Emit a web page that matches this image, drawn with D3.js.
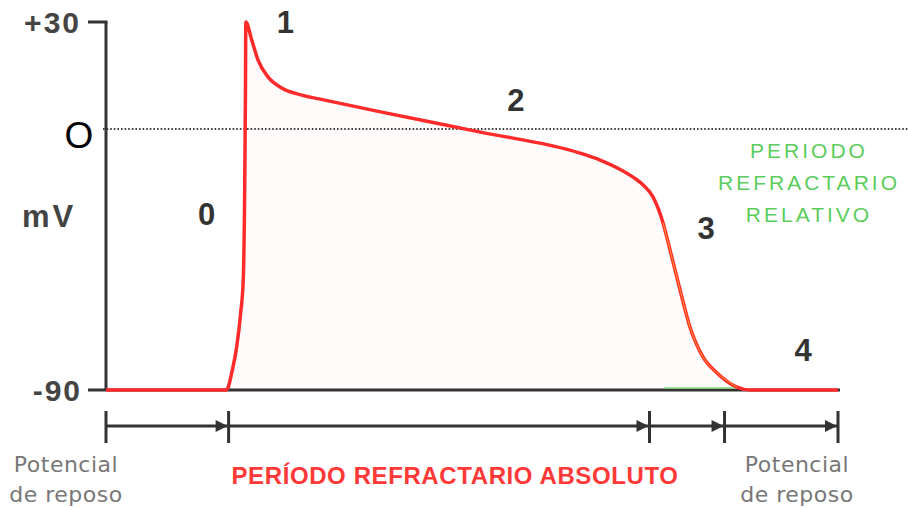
<!DOCTYPE html>
<html>
<head>
<meta charset="utf-8">
<script src="https://cdn.jsdelivr.net/npm/d3@7"></script>
<style>
  body { margin: 0; background: #fff; }
  svg { display: block; }
</style>
</head>
<body>
<div id="chart"></div>
<script>
// time (ms) and membrane potential (mV) of the action potential
var timeMs = [0, 65.6, 66.8, 68.7, 71.4, 73.6, 75.0, 75.8, 76.2, 76.4, 79.6, 83.1, 88.5, 96, 107, 119.6, 150, 204, 259, 270, 280, 288, 294, 298.9, 304.4, 308.2, 313.7, 319.1, 326.2, 333.9, 344.8, 352, 400];
var voltage = [-90, -90, -89, -84.1, -75.2, -63.4, -52, -20, 10, 30, 25, 19.3, 14.6, 11.5, 9.5, 8.1, 4.8, -1.0, -8.3, -10.7, -13.6, -16.6, -19.6, -23.4, -32.4, -41.7, -55.5, -68.3, -78.6, -84.1, -89, -90, -90];

var yTicks = [30, 0, -90];
var yTickLabels = ["+30", "O", "-90"];

// phase number labels [time, mV]
var phaseNames = ["0", "1", "2", "3", "4"];
var phaseAt = [[55, -33], [98, 27], [224, 5], [328, -38], [381, -80]];

// bracket boundaries along time axis
var bracketBounds = [0, 67, 297, 338, 400];
// relative refractory span (marked in green on the baseline)
var relativeSpan = [305, 345];

var width = 908, height = 508;

var svg = d3.select("#chart")
    .append("svg")
    .attr("width", width)
    .attr("height", height);

var x = d3.scaleLinear()
    .domain([0, 400])
    .range([106, 838]);

// the original drawing isn't linear in voltage, so use a piecewise scale
var y = d3.scaleLinear()
    .domain([-90, 0, 30])
    .range([390, 129, 22]);

var data = timeMs.map((t, i) => ({ t: t, v: voltage[i] }));
var curve = d3.curveMonotoneX;

// faint fill under the curve
svg.append("path")
    .datum(data)
    .attr("fill", "rgba(255,0,0,0.015)")
    .attr("d", d3.area()
        .x(d => x(d.t))
        .y0(y(-90))
        .y1(d => y(d.v))
        .curve(curve));

// dotted zero line
svg.append("line")
    .attr("x1", x(0) - 3)
    .attr("x2", width)
    .attr("y1", y(0))
    .attr("y2", y(0))
    .attr("stroke", "#000")
    .attr("stroke-width", 1.6)
    .attr("stroke-dasharray", "1.6,2");

// axes
var axisColor = "#333";
svg.append("line")
    .attr("x1", x(0)).attr("x2", x(0))
    .attr("y1", y(30)).attr("y2", y(-90))
    .attr("stroke", axisColor).attr("stroke-width", 3);
svg.append("line")
    .attr("x1", 88).attr("x2", x(0) + 1.5)
    .attr("y1", y(30)).attr("y2", y(30))
    .attr("stroke", axisColor).attr("stroke-width", 3);
svg.append("line")
    .attr("x1", 88).attr("x2", x(400) + 2)
    .attr("y1", y(-90)).attr("y2", y(-90))
    .attr("stroke", axisColor).attr("stroke-width", 3);

svg.append("line")
    .attr("x1", x(relativeSpan[0])).attr("x2", x(relativeSpan[1]))
    .attr("y1", y(-90) - 2).attr("y2", y(-90) - 2)
    .attr("stroke", "#7fd67f").attr("stroke-width", 1.5);

// action potential curve
var line = d3.line()
    .x(d => x(d.t))
    .y(d => y(d.v))
    .curve(curve);

svg.append("path")
    .datum(data)
    .attr("fill", "none")
    .attr("stroke", "#ff2b2b")
    .attr("stroke-width", 3.5)
    .attr("stroke-linejoin", "round")
    .attr("d", line);

// yellowish inner tint on the repolarisation
svg.append("path")
    .datum(data.filter(d => d.t >= 304 && d.t <= 345))
    .attr("fill", "none")
    .attr("stroke", "#ffb030")
    .attr("stroke-width", 1)
    .attr("opacity", 0.8)
    .attr("d", line);

// y tick labels
svg.selectAll(".ytick")
    .data(yTicks)
    .enter().append("text")
    .attr("class", "ytick")
    .attr("x", (d, i) => i == 1 ? 79 : (i == 0 ? 81 : 82))
    .attr("y", d => y(d) + (d == 0 ? 19 : 11))
    .attr("text-anchor", (d, i) => i == 1 ? "middle" : "end")
    .style("font-family", "Liberation Sans, Arial, sans-serif")
    .style("font-weight", (d, i) => i == 1 ? "normal" : "bold")
    .style("font-size", (d, i) => i == 1 ? "37px" : "30px")
    .style("letter-spacing", (d, i) => i == 1 ? "0px" : "2px")
    .attr("fill", (d, i) => i == 1 ? "#000" : "#444")
    .text((d, i) => yTickLabels[i]);

svg.append("text")
    .attr("x", 49)
    .attr("y", 227)
    .attr("text-anchor", "middle")
    .style("font-family", "Liberation Sans, Arial, sans-serif")
    .style("font-weight", "bold")
    .style("font-size", "31px")
    .style("letter-spacing", "3px")
    .attr("fill", "#444")
    .text("mV");

// phase numbers
svg.selectAll(".phase")
    .data(phaseNames)
    .enter().append("text")
    .attr("class", "phase")
    .attr("x", (d, i) => x(phaseAt[i][0]))
    .attr("y", (d, i) => y(phaseAt[i][1]))
    .attr("text-anchor", "middle")
    .style("font-family", "Liberation Sans, Arial, sans-serif")
    .style("font-weight", "bold")
    .style("font-size", "31px")
    .attr("fill", "#333")
    .text(d => d);

// relative refractory label
var relLines = ["PERIODO", "REFRACTARIO", "RELATIVO"];
svg.selectAll(".rel")
    .data(relLines)
    .enter().append("text")
    .attr("class", "rel")
    .attr("x", 809)
    .attr("y", (d, i) => 158 + i * 32)
    .attr("text-anchor", "middle")
    .style("font-family", "Liberation Sans, Arial, sans-serif")
    .style("font-size", "21px")
    .style("letter-spacing", "3px")
    .attr("fill", "#5ccc5c")
    .text(d => d);

// bracket line with ticks and arrows
var bracketY = 426;
svg.append("line")
    .attr("x1", x(bracketBounds[0])).attr("x2", x(bracketBounds[bracketBounds.length - 1]))
    .attr("y1", bracketY).attr("y2", bracketY)
    .attr("stroke", axisColor).attr("stroke-width", 3);

svg.selectAll(".btick")
    .data(bracketBounds)
    .enter().append("line")
    .attr("class", "btick")
    .attr("x1", d => x(d)).attr("x2", d => x(d))
    .attr("y1", bracketY - 15).attr("y2", bracketY + 17)
    .attr("stroke", axisColor).attr("stroke-width", 3);

svg.selectAll(".arrow")
    .data(bracketBounds.slice(1))
    .enter().append("path")
    .attr("class", "arrow")
    .attr("d", d => {
        var tip = x(d) - 1;
        return "M" + (tip - 12) + "," + (bracketY - 6) + "L" + tip + "," + bracketY + "L" + (tip - 12) + "," + (bracketY + 6) + "Z";
    })
    .attr("fill", axisColor);

// bottom labels
var restLines = ["Potencial", "de reposo"];
[66, 797].forEach(cx => {
    svg.selectAll(null)
        .data(restLines)
        .enter().append("text")
        .attr("x", cx)
        .attr("y", (d, i) => 472 + i * 30)
        .attr("text-anchor", "middle")
        .style("font-family", "DejaVu Sans, sans-serif")
        .style("font-size", "22px")
        .style("letter-spacing", "0.5px")
        .attr("fill", "#777")
        .text(d => d);
});

svg.append("text")
    .attr("x", 455)
    .attr("y", 484)
    .attr("text-anchor", "middle")
    .style("font-family", "Liberation Sans, Arial, sans-serif")
    .style("font-weight", "bold")
    .style("font-size", "24px")
    .style("letter-spacing", "0.6px")
    .attr("fill", "#ff3838")
    .text("PERÍODO REFRACTARIO ABSOLUTO");
</script>
</body>
</html>
